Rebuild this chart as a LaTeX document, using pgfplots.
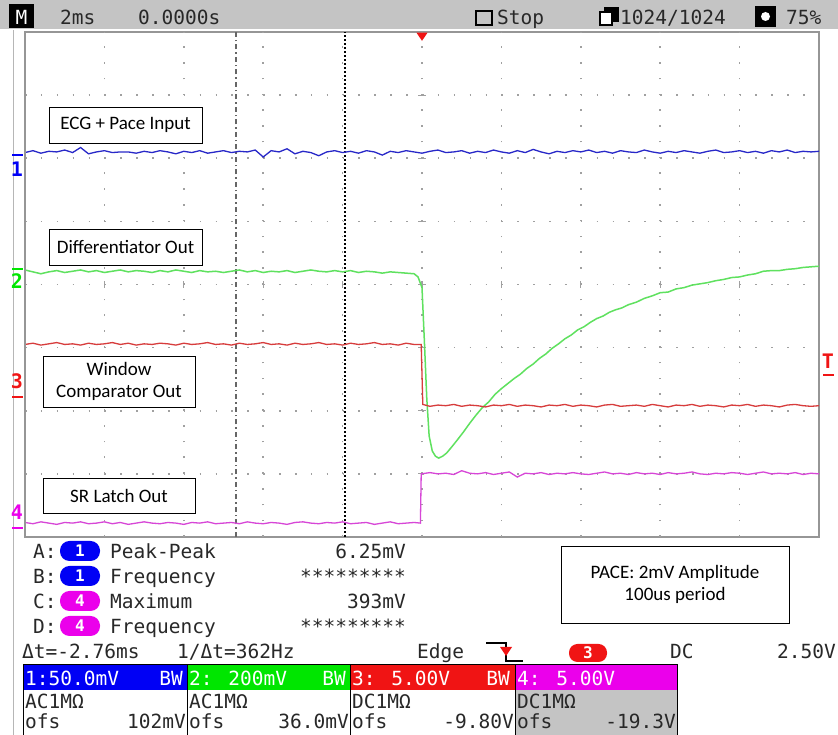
\documentclass[border=0pt]{standalone}
\usepackage{pgfplots}
\pgfplotsset{compat=1.18}
\usepackage{fontspec}
\newfontfamily\scopefont{DejaVu Sans Mono}
\newfontfamily\annfont{Carlito}
\definecolor{barg}{RGB}{196,196,196}
\definecolor{gridc}{RGB}{160,160,160}
\definecolor{frame}{RGB}{150,150,150}
\definecolor{chA}{RGB}{40,40,200}
\definecolor{chB}{RGB}{95,225,95}
\definecolor{chC}{RGB}{215,60,60}
\definecolor{chD}{RGB}{215,70,215}
\definecolor{hdA}{RGB}{0,0,245}
\definecolor{hdB}{RGB}{0,230,0}
\definecolor{hdC}{RGB}{240,20,20}
\definecolor{hdD}{RGB}{235,0,235}
\definecolor{txt}{RGB}{40,40,40}
\newcommand\scp{\scopefont\fontsize{19.5}{21}\selectfont}
\newcommand\ann{\annfont\fontsize{19}{22}\selectfont}

\begin{document}
\begin{tikzpicture}[x=1pt,y=1pt]
\fill[white] (0pt,0pt) rectangle (838pt,735pt);
\begin{axis}[at={(25pt,198pt)}, anchor=south west, scale only axis,
  width=794pt, height=505pt,
  xmin=0, xmax=10, ymin=0, ymax=8,
  ticks=none, clip=false,
  axis line style={draw=frame, line width=1.5pt}]
  % dotted graticule
  \pgfplotsinvokeforeach{1,...,9}{
    \draw[gridc, line width=1.6pt, dash pattern=on 1.6pt off 14.18pt] (#1,0) -- (#1,8);
    \draw[gridc, line width=1.2pt] (#1,3.945) -- (#1,4.055);
  }
  \pgfplotsinvokeforeach{1,...,7}{
    \draw[gridc, line width=1.6pt, dash pattern=on 1.6pt off 14.28pt] (0,#1) -- (10,#1);
    \draw[gridc, line width=1.2pt] (4.955,#1) -- (5.045,#1);
  }
  % cursors
  \draw[gray!80!black, line width=1.2pt, dash pattern=on 5pt off 3pt on 1.5pt off 3pt] (2.657,0) -- (2.657,8);
  \draw[black, line width=1.8pt, dash pattern=on 1.6pt off 2.4pt] (4.03,0) -- (4.03,8);
  % trigger position
  \fill[hdC] (4.93,7.99) -- (5.07,7.99) -- (5.0,7.86) -- cycle;

  % CH1 ECG + pace input
  \addplot[chA, line width=1.3pt] coordinates {
    (0,6.09)(0.1,6.12)(0.2,6.08)(0.3,6.11)(0.4,6.10)(0.5,6.13)(0.6,6.09)(0.7,6.17)(0.8,6.07)(0.9,6.10)
    (1.0,6.12)(1.1,6.09)(1.2,6.10)(1.3,6.10)(1.4,6.08)(1.5,6.11)(1.6,6.09)(1.7,6.12)(1.8,6.10)(1.9,6.07)
    (2.0,6.11)(2.1,6.09)(2.2,6.12)(2.3,6.08)(2.4,6.10)(2.5,6.12)(2.6,6.09)(2.7,6.11)(2.8,6.10)(2.9,6.13)
    (3.0,6.02)(3.1,6.12)(3.2,6.10)(3.3,6.15)(3.4,6.07)(3.5,6.11)(3.6,6.09)(3.7,6.04)(3.8,6.10)(3.9,6.12)
    (4.0,6.09)(4.1,6.11)(4.2,6.08)(4.3,6.12)(4.4,6.10)(4.5,6.05)(4.6,6.11)(4.7,6.09)(4.8,6.12)(4.9,6.10)
    (5.0,6.08)(5.1,6.11)(5.2,6.13)(5.3,6.09)(5.4,6.10)(5.5,6.12)(5.6,6.08)(5.7,6.11)(5.8,6.09)(5.9,6.13)
    (6.0,6.10)(6.1,6.08)(6.2,6.12)(6.3,6.09)(6.4,6.14)(6.5,6.10)(6.6,6.07)(6.7,6.11)(6.8,6.09)(6.9,6.12)
    (7.0,6.10)(7.1,6.13)(7.2,6.09)(7.3,6.11)(7.4,6.08)(7.5,6.12)(7.6,6.10)(7.7,6.09)(7.8,6.13)(7.9,6.10)
    (8.0,6.08)(8.1,6.11)(8.2,6.09)(8.3,6.12)(8.4,6.10)(8.5,6.08)(8.6,6.11)(8.7,6.13)(8.8,6.09)(8.9,6.10)
    (9.0,6.12)(9.1,6.09)(9.2,6.11)(9.3,6.08)(9.4,6.12)(9.5,6.10)(9.6,6.13)(9.7,6.09)(9.8,6.11)(9.9,6.10)(10,6.11)
  };
  % CH2 differentiator out
  \addplot[chB, line width=1.5pt] coordinates {
    (0,4.23)(0.1,4.20)(0.2,4.17)(0.3,4.20)(0.4,4.22)(0.5,4.19)(0.6,4.21)(0.7,4.23)(0.8,4.20)(0.9,4.22)
    (1.0,4.19)(1.1,4.21)(1.2,4.23)(1.3,4.20)(1.4,4.22)(1.5,4.21)(1.6,4.19)(1.7,4.22)(1.8,4.20)(1.9,4.23)
    (2.0,4.21)(2.1,4.19)(2.2,4.22)(2.3,4.20)(2.4,4.21)(2.5,4.19)(2.6,4.21)(2.7,4.23)(2.8,4.20)(2.9,4.22)
    (3.0,4.19)(3.1,4.21)(3.2,4.20)(3.3,4.22)(3.4,4.19)(3.5,4.21)(3.6,4.23)(3.7,4.21)(3.8,4.20)(3.9,4.22)
    (4.0,4.20)(4.1,4.22)(4.2,4.19)(4.3,4.21)(4.4,4.20)(4.5,4.18)(4.6,4.20)(4.7,4.19)(4.8,4.18)(4.9,4.17)
    (4.95,4.12)(5.00,3.95)(5.03,3.10)(5.06,2.20)(5.09,1.60)(5.13,1.36)(5.17,1.28)(5.21,1.25)(5.26,1.28)
    (5.31,1.33)(5.37,1.42)(5.44,1.53)(5.52,1.66)(5.60,1.80)(5.68,1.93)(5.76,2.05)(5.84,2.14)(5.92,2.26)
    (6.00,2.35)(6.08,2.43)(6.16,2.51)(6.24,2.58)(6.32,2.67)(6.40,2.74)(6.48,2.83)(6.56,2.90)(6.64,2.99)
    (6.72,3.06)(6.80,3.14)(6.88,3.20)(6.96,3.28)(7.04,3.33)(7.12,3.40)(7.20,3.46)(7.28,3.50)(7.36,3.56)
    (7.44,3.60)(7.52,3.63)(7.60,3.68)(7.70,3.72)(7.80,3.78)(7.90,3.82)(8.00,3.87)(8.10,3.88)(8.20,3.93)
    (8.30,3.95)(8.40,3.99)(8.50,4.01)(8.60,4.03)(8.70,4.06)(8.80,4.08)(8.90,4.11)(9.00,4.12)(9.10,4.15)
    (9.20,4.17)(9.30,4.21)(9.40,4.22)(9.50,4.22)(9.60,4.24)(9.70,4.25)(9.80,4.27)(9.90,4.28)(10,4.29)
  };
  % CH3 window comparator out
  \addplot[chC, line width=1.3pt] coordinates {
    (0,3.05)(0.1,3.07)(0.2,3.04)(0.3,3.06)(0.4,3.08)(0.5,3.05)(0.6,3.06)(0.7,3.04)(0.8,3.07)(0.9,3.05)
    (1.0,3.06)(1.1,3.08)(1.2,3.05)(1.3,3.07)(1.4,3.04)(1.5,3.06)(1.6,3.05)(1.7,3.07)(1.8,3.06)(1.9,3.04)
    (2.0,3.07)(2.1,3.05)(2.2,3.06)(2.3,3.08)(2.4,3.05)(2.5,3.06)(2.6,3.04)(2.7,3.07)(2.8,3.05)(2.9,3.06)
    (3.0,3.08)(3.1,3.05)(3.2,3.06)(3.3,3.04)(3.4,3.07)(3.5,3.05)(3.6,3.06)(3.7,3.08)(3.8,3.05)(3.9,3.06)
    (4.0,3.04)(4.1,3.07)(4.2,3.05)(4.3,3.06)(4.4,3.08)(4.5,3.05)(4.6,3.06)(4.7,3.04)(4.8,3.07)(4.9,3.05)
    (4.99,3.05)(5.01,2.10)(5.1,2.07)(5.2,2.09)(5.3,2.08)(5.4,2.10)(5.5,2.07)(5.6,2.09)(5.7,2.08)(5.8,2.06)(5.9,2.09)
    (6.0,2.08)(6.1,2.10)(6.2,2.07)(6.3,2.09)(6.4,2.08)(6.5,2.06)(6.6,2.09)(6.7,2.08)(6.8,2.10)(6.9,2.07)
    (7.0,2.09)(7.1,2.08)(7.2,2.06)(7.3,2.09)(7.4,2.10)(7.5,2.07)(7.6,2.08)(7.7,2.09)(7.8,2.07)(7.9,2.10)
    (8.0,2.08)(8.1,2.06)(8.2,2.09)(8.3,2.08)(8.4,2.10)(8.5,2.07)(8.6,2.09)(8.7,2.08)(8.8,2.06)(8.9,2.09)
    (9.0,2.08)(9.1,2.10)(9.2,2.07)(9.3,2.09)(9.4,2.08)(9.5,2.06)(9.6,2.09)(9.7,2.10)(9.8,2.08)(9.9,2.07)(10,2.08)
  };
  % CH4 SR latch out
  \addplot[chD, line width=1.3pt] coordinates {
    (0,0.23)(0.1,0.21)(0.2,0.24)(0.3,0.22)(0.4,0.20)(0.5,0.23)(0.6,0.22)(0.7,0.24)(0.8,0.21)(0.9,0.22)
    (1.0,0.24)(1.1,0.21)(1.2,0.23)(1.3,0.20)(1.4,0.22)(1.5,0.24)(1.6,0.22)(1.7,0.21)(1.8,0.23)(1.9,0.22)
    (2.0,0.20)(2.1,0.23)(2.2,0.22)(2.3,0.24)(2.4,0.21)(2.5,0.22)(2.6,0.23)(2.7,0.21)(2.8,0.24)(2.9,0.22)
    (3.0,0.21)(3.1,0.23)(3.2,0.22)(3.3,0.20)(3.4,0.23)(3.5,0.24)(3.6,0.22)(3.7,0.21)(3.8,0.23)(3.9,0.22)
    (4.0,0.24)(4.1,0.21)(4.2,0.22)(4.3,0.23)(4.4,0.20)(4.5,0.22)(4.6,0.24)(4.7,0.21)(4.8,0.22)(4.9,0.23)
    (4.98,0.22)(4.99,1.00)(5.1,1.02)(5.2,1.00)(5.3,1.01)(5.4,0.99)(5.5,1.05)(5.6,1.01)(5.7,1.00)(5.8,1.02)(5.9,0.99)
    (6.0,1.01)(6.1,1.03)(6.2,0.95)(6.3,1.01)(6.4,1.00)(6.5,1.02)(6.6,0.99)(6.7,1.01)(6.8,1.00)(6.9,1.02)
    (7.0,1.00)(7.1,0.99)(7.2,1.01)(7.3,1.03)(7.4,1.00)(7.5,1.01)(7.6,0.99)(7.7,1.02)(7.8,1.00)(7.9,1.01)
    (8.0,0.99)(8.1,1.02)(8.2,1.00)(8.3,1.01)(8.4,1.03)(8.5,1.00)(8.6,0.99)(8.7,1.01)(8.8,1.00)(8.9,1.02)
    (9.0,1.01)(9.1,0.99)(9.2,1.01)(9.3,1.03)(9.4,1.00)(9.5,1.01)(9.6,1.00)(9.7,1.02)(9.8,0.99)(9.9,1.01)(10,1.00)
  };
\end{axis}

\begin{scope}[yshift=735pt, yscale=-1, every node/.style={inner sep=0pt, text=txt}]
  % status bar
  \fill[barg] (0,0) rectangle (838,29);
  \fill[black] (9,4) rectangle (34,28);
  \node[anchor=base, text=white, font=\scp] at (21.5,25) {M};
  \node[anchor=base west, font=\scp] at (60,25) {2ms};
  \node[anchor=base west, font=\scp] at (138,25) {0.0000s};
  \draw[black, line width=2.6pt] (476,11) rectangle (492,25);
  \node[anchor=base west, font=\scp] at (497,25) {Stop};
  \fill[black] (604,7) rectangle (619,22);
  \draw[black, line width=1.5pt, fill=white] (600,12) rectangle (612,25);
  \node[anchor=base west, font=\scp] at (620,25) {1024/1024};
  \fill[black] (755,6) rectangle (776,27);
  \fill[white] (765.5,16.5) circle (4.5);
  \node[anchor=base west, font=\scp] at (786,25) {75\%};
  % screen edge and thick left frame
  \draw[frame!70, line width=0.8pt] (13,30) -- (13,735);
  \draw[frame, line width=2.5pt] (25,32) -- (25,537);
  % channel ground markers
  \draw[hdA, line width=1.5pt] (12,155) -- (23,155);
  \node[anchor=base, text=hdA, font=\scopefont\bfseries\fontsize{20}{20}\selectfont] at (17,177) {1};
  \draw[hdB, line width=1.5pt] (12,269) -- (23,269);
  \node[anchor=base, text=hdB, font=\scopefont\bfseries\fontsize{20}{20}\selectfont] at (17,289) {2};
  \node[anchor=base, text=hdC, font=\scopefont\bfseries\fontsize{20}{20}\selectfont] at (17,389) {3};
  \draw[hdC, line width=1.5pt] (12,397) -- (23,397);
  \node[anchor=base, text=hdD, font=\scopefont\bfseries\fontsize{20}{20}\selectfont] at (17,520) {4};
  \draw[hdD, line width=1.5pt] (12,528) -- (23,528);
  % trigger level
  \node[anchor=base, text=hdC, font=\scopefont\bfseries\fontsize{20}{20}\selectfont] at (828,369) {T};
  \draw[hdC, line width=1.5pt] (823,375) -- (834,375);
  % annotation boxes
  \draw[black, line width=0.8pt, fill=white] (49,107) rectangle (202,143);
  \node[font=\ann, text=black] at (125.5,125) {ECG + Pace Input};
  \draw[black, line width=0.8pt, fill=white] (49,229) rectangle (202,265);
  \node[font=\ann, text=black] at (125.5,247) {Differentiator Out};
  \draw[black, line width=0.8pt, fill=white] (43,356) rectangle (195,407);
  \node[font=\ann, text=black, align=center] at (119,381.5) {Window\\Comparator Out};
  \draw[black, line width=0.8pt, fill=white] (43,478) rectangle (195,513);
  \node[font=\ann, text=black] at (119,495.5) {SR Latch Out};
  \draw[black, line width=0.8pt, fill=white] (561,546) rectangle (789,623);
  \node[font=\ann, text=black, align=center] at (675,584.5) {PACE: 2mV Amplitude\\100us period};
  % measurements
  \node[anchor=base west, font=\scp] at (33,559) {A:};
  \fill[hdA, rounded corners=9.5pt] (60,541) rectangle (100,561);
  \node[anchor=base, text=white, font=\scopefont\bfseries\fontsize{16}{16}\selectfont] at (80,557) {1};
  \node[anchor=base west, font=\scp] at (110,559) {Peak-Peak};
  \node[anchor=base east, font=\scp] at (406,559) {6.25mV};
  \node[anchor=base west, font=\scp] at (33,584) {B:};
  \fill[hdA, rounded corners=9.5pt] (60,566) rectangle (100,586);
  \node[anchor=base, text=white, font=\scopefont\bfseries\fontsize{16}{16}\selectfont] at (80,582) {1};
  \node[anchor=base west, font=\scp] at (110,584) {Frequency};
  \node[anchor=base east, font=\scp] at (406,584) {*********};
  \node[anchor=base west, font=\scp] at (33,609) {C:};
  \fill[hdD, rounded corners=9.5pt] (60,591) rectangle (100,611);
  \node[anchor=base, text=white, font=\scopefont\bfseries\fontsize{16}{16}\selectfont] at (80,607) {4};
  \node[anchor=base west, font=\scp] at (110,609) {Maximum};
  \node[anchor=base east, font=\scp] at (406,609) {393mV};
  \node[anchor=base west, font=\scp] at (33,634) {D:};
  \fill[hdD, rounded corners=9.5pt] (60,616) rectangle (100,636);
  \node[anchor=base, text=white, font=\scopefont\bfseries\fontsize{16}{16}\selectfont] at (80,632) {4};
  \node[anchor=base west, font=\scp] at (110,634) {Frequency};
  \node[anchor=base east, font=\scp] at (406,634) {*********};
  % cursor and trigger readout
  \node[anchor=base west, font=\scp] at (22,659) {Δt=-2.76ms};
  \node[anchor=base west, font=\scp] at (177,659) {1/Δt=362Hz};
  \node[anchor=base west, font=\scp] at (417,659) {Edge};
  \draw[black, line width=1.3pt] (486,643) -- (506,643) -- (506,661) -- (523,661);
  \fill[hdC] (500,647) -- (512,647) -- (506,656) -- cycle;
  \fill[hdC, rounded corners=8.5pt] (569,644) rectangle (607,662);
  \node[anchor=base, text=white, font=\scopefont\bfseries\fontsize{16}{16}\selectfont] at (588,659) {3};
  \node[anchor=base west, font=\scp] at (670,659) {DC};
  \node[anchor=base east, font=\scp] at (836,659) {2.50V};
  % channel settings
  \fill[hdA] (23,665) rectangle (187,690);
  \fill[hdB] (187,665) rectangle (350,690);
  \fill[hdC] (350,665) rectangle (515,690);
  \fill[hdD] (515,665) rectangle (677,690);
  \fill[barg] (515,690) rectangle (677,735);
  \draw[black, line width=1pt] (23,665) rectangle (677,740);
  \draw[black, line width=1pt] (187,665) -- (187,735) (350,665) -- (350,735) (515,665) -- (515,735);
  \node[anchor=base west, text=white, font=\scp] at (25,686) {1:50.0mV};
  \node[anchor=base east, text=white, font=\scp] at (183,686) {BW};
  \node[anchor=base west, text=white, font=\scp] at (189,686) {2: 200mV};
  \node[anchor=base east, text=white, font=\scp] at (346,686) {BW};
  \node[anchor=base west, text=white, font=\scp] at (352,686) {3: 5.00V};
  \node[anchor=base east, text=white, font=\scp] at (510,686) {BW};
  \node[anchor=base west, text=white, font=\scp] at (517,686) {4: 5.00V};
  \node[anchor=base west, font=\scp] at (25,709) {AC1MΩ};
  \node[anchor=base west, font=\scp] at (189,709) {AC1MΩ};
  \node[anchor=base west, font=\scp] at (352,709) {DC1MΩ};
  \node[anchor=base west, font=\scp] at (517,709) {DC1MΩ};
  \node[anchor=base west, font=\scp] at (25,729) {ofs};
  \node[anchor=base east, font=\scp] at (186,729) {102mV};
  \node[anchor=base west, font=\scp] at (189,729) {ofs};
  \node[anchor=base east, font=\scp] at (349,729) {36.0mV};
  \node[anchor=base west, font=\scp] at (352,729) {ofs};
  \node[anchor=base east, font=\scp] at (514,729) {-9.80V};
  \node[anchor=base west, font=\scp] at (517,729) {ofs};
  \node[anchor=base east, font=\scp] at (676,729) {-19.3V};
\end{scope}
\pgfresetboundingbox
\useasboundingbox (0pt,0pt) rectangle (838pt,735pt);
\end{tikzpicture}
\end{document}
